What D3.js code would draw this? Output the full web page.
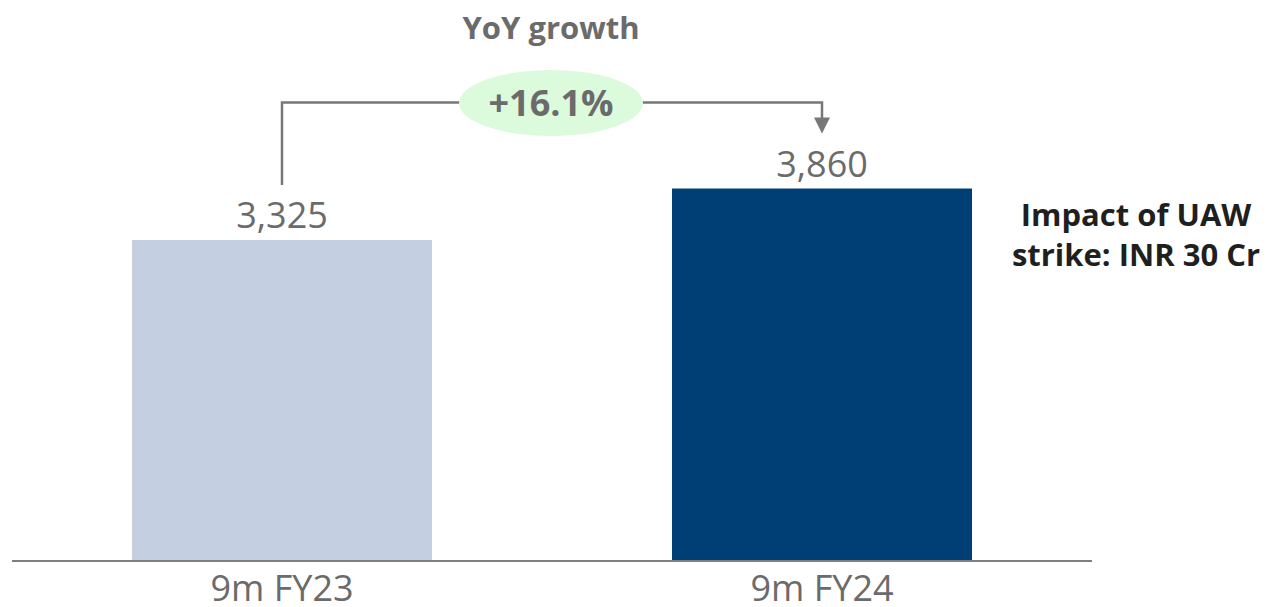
<!DOCTYPE html>
<html><head><meta charset="utf-8">
<script src="https://cdn.jsdelivr.net/npm/d3@7"></script>
<style>html,body{margin:0;padding:0;background:#fff;}svg{display:block;font-family:"Open Sans",sans-serif;}</style>
</head><body>
<svg id="c" width="1270" height="607"></svg>
<script>
const categories = ["9m FY23", "9m FY24"];
const values = [3325, 3860];
const valueLabels = ["3,325", "3,860"];
const growthTitle = "YoY growth";
const growthLabel = "+16.1%";
const noteLines = ["Impact of UAW", "strike: INR 30 Cr"];

const svg = d3.select("#c");
const x = d3.scaleBand().domain(categories).range([12, 1092]).paddingInner(0.4444).paddingOuter(0.2222);
const y = d3.scaleLinear().domain([0, 4000]).range([560, 175.04]);
const colors = ["#c4cfe1", "#003f75"];
const gray = "#6b6b6b";

svg.selectAll("rect.bar").data(values).join("rect")
  .attr("x", (d,i) => x(categories[i])).attr("width", x.bandwidth())
  .attr("y", d => y(d)).attr("height", d => y(0) - y(d))
  .attr("fill", (d,i) => colors[i]);

svg.append("line").attr("x1", 12).attr("x2", 1092).attr("y1", y(0)+1).attr("y2", y(0)+1)
  .attr("stroke", "#7f7f7f").attr("stroke-width", 2);

svg.selectAll("text.val").data(values).join("text")
  .attr("x", (d,i) => x(categories[i]) + x.bandwidth()/2).attr("y", d => y(d) - 12)
  .attr("text-anchor", "middle").attr("font-size", 36).attr("fill", gray).text((d,i) => valueLabels[i]);

svg.selectAll("text.cat").data(categories).join("text")
  .attr("x", d => x(d) + x.bandwidth()/2).attr("y", 601)
  .attr("text-anchor", "middle").attr("font-size", 36).attr("fill", gray).text(d => d);

// connector
const cx0 = x(categories[0]) + x.bandwidth()/2, cx1 = x(categories[1]) + x.bandwidth()/2;
const topY = 102.5;
const y0 = y(values[0]) - 55, y1 = y(values[1]) - 55;
svg.append("path").attr("d", `M${cx0},${y0}V${topY}H${cx1}V${y1-15}`)
  .attr("fill", "none").attr("stroke", "#777").attr("stroke-width", 2.5);
svg.append("path").attr("d", `M${cx1-8},${y1-16}L${cx1+8},${y1-16}L${cx1},${y1}Z`).attr("fill", "#777");

const mid = (cx0 + cx1) / 2 - 1;
svg.append("ellipse").attr("cx", mid).attr("cy", 103).attr("rx", 92).attr("ry", 33).attr("fill", "#dcfadc");
svg.append("text").attr("x", mid).attr("y", 116).attr("text-anchor", "middle")
  .attr("font-size", 36).attr("font-weight", "bold").attr("fill", gray).text(growthLabel);
svg.append("text").attr("x", mid).attr("y", 39).attr("text-anchor", "middle")
  .attr("font-size", 31).attr("font-weight", "bold").attr("fill", gray).text(growthTitle);

svg.selectAll("text.note").data(noteLines).join("text")
  .attr("x", 1136).attr("y", (d,i) => 226 + i*40).attr("text-anchor", "middle")
  .attr("font-size", 31).attr("font-weight", "bold").attr("fill", "#1f1f1f").text(d => d);
</script>
</body></html>
